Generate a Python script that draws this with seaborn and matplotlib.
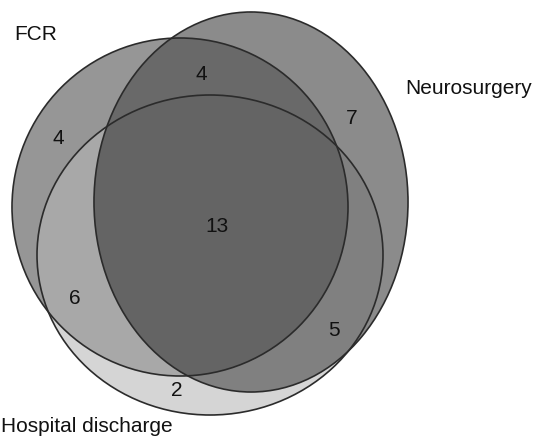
import numpy as np
import seaborn as sns
import matplotlib.pyplot as plt
from matplotlib.patches import Ellipse

# set names and region counts
set_names = ['FCR', 'Neurosurgery', 'Hospital discharge']
regions = ['F', 'N', 'H', 'FN', 'FH', 'NH', 'FNH']
counts = [4, 7, 2, 4, 6, 5, 13]

# region fill grey levels (0-255)
region_grey = [150, 140, 213, 105, 168, 128, 100]

# ellipse layout in pixel coordinates: centre x, centre y, width, height
shapes = {
    'F': (180, 207, 336, 338),
    'N': (251, 202, 314, 380),
    'H': (210, 255, 346, 320),
}
label_pos = {
    'F': (58, 138), 'N': (352, 118), 'H': (177, 391),
    'FN': (201, 74), 'FH': (75, 299), 'NH': (334, 330), 'FNH': (217, 226),
}
name_pos = [(14, 40), (405, 94), (1, 432)]

W, H = 534, 437

sns.set_theme(style='white')
plt.rcParams['font.family'] = ['Liberation Sans', 'DejaVu Sans']

fig = plt.figure(figsize=(W / 100, H / 100), dpi=100)
ax = fig.add_axes([0, 0, 1, 1])

# colour each region on a fine grid
xs = np.linspace(0, W, W * 3)
ys = np.linspace(0, H, H * 3)
X, Y = np.meshgrid(xs, ys)
inside = {}
for k, (cx, cy, w, h) in shapes.items():
    inside[k] = ((X - cx) / (w / 2)) ** 2 + ((Y - cy) / (h / 2)) ** 2 <= 1

img = np.full(X.shape, 255.0)
for reg, g in zip(regions, region_grey):
    mask = np.ones(X.shape, bool)
    for k in 'FNH':
        mask &= inside[k] if k in reg else ~inside[k]
    img[mask] = g

ax.imshow(img, cmap='gray', vmin=0, vmax=255, extent=[0, W, H, 0],
          interpolation='bilinear')

for k, (cx, cy, w, h) in shapes.items():
    ax.add_patch(Ellipse((cx, cy), w, h, fill=False, edgecolor='#2b2b2b', lw=1.2))

for reg, n in zip(regions, counts):
    x, y = label_pos[reg]
    ax.text(x, y, str(n), ha='center', va='center', fontsize=15, color='#111111')

for name, (x, y) in zip(set_names, name_pos):
    ax.text(x, y, name, ha='left', va='baseline', fontsize=15, color='#111111')

ax.set_xlim(0, W)
ax.set_ylim(H, 0)
ax.axis('off')

fig.savefig('out.png', dpi=100)
